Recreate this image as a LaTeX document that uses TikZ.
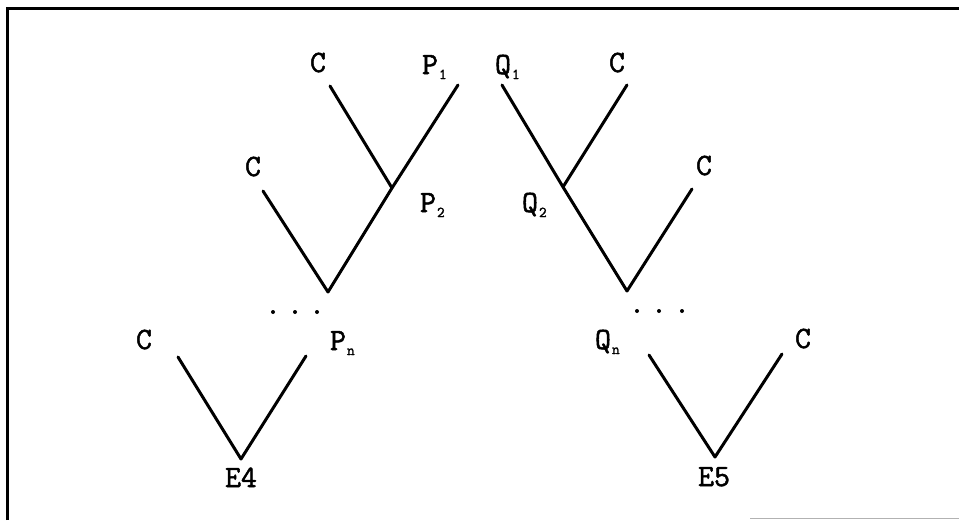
\documentclass[tikz,border=0pt]{standalone}
\usepackage{fontspec}
\newfontfamily\labfont[FakeBold=1.6]{Latin Modern Mono}
\newcommand{\sublab}[2]{#1\rlap{\hspace{1pt}\raisebox{-5pt}{\fontsize{15}{15}\selectfont #2}}}
\begin{document}
\begin{tikzpicture}[x=1pt,y=-1pt,
  lbl/.style={inner sep=0pt,anchor=base,font=\labfont\fontsize{31}{31}\selectfont},
  branch/.style={line width=3pt,line cap=round,line join=round},
  frame/.style={line width=3pt},
  dotm/.style={circle,fill=black,inner sep=0pt,minimum size=4pt}]
\useasboundingbox (0,0) rectangle (959,520);
% frame
\coordinate (fTL) at (7,8);
\coordinate (fTR) at (959,8);
\coordinate (fBL) at (7,520);
\draw[frame] (fBL) -- (fTL) -- (fTR);
\coordinate (gA) at (750,518.5);
\coordinate (gB) at (959,518.5);
\draw[line width=1.5pt,gray!60] (gA) -- (gB);

% ---- left tree ----
\node[lbl] (lC1) at (318,72) {C};
\node[lbl] (lP1) at (430,74) {\sublab{P}{1}};
\node[lbl] (lC2) at (253,176) {C};
\node[lbl] (lP2) at (428,212) {\sublab{P}{2}};
\node[lbl] (lPn) at (338,350) {\sublab{P}{n}};
\node[lbl] (lC3) at (144,349) {C};
\node[lbl] (lE4) at (241,487) {E4};
\coordinate (a1) at (330,86);
\coordinate (a2) at (458,85);
\coordinate (j1) at (392,188);
\coordinate (a3) at (263,191);
\coordinate (v1) at (328,292);
\coordinate (a4) at (178,357);
\coordinate (a5) at (306,356);
\coordinate (v2) at (241,459);
\draw[branch] (a1) -- (j1);
\draw[branch] (a2) -- (j1) -- (v1);
\draw[branch] (a3) -- (v1);
\draw[branch] (a4) -- (v2) -- (a5);
\node[dotm] (d1) at (273,312) {};
\node[dotm] (d2) at (295,312) {};
\node[dotm] (d3) at (317,312) {};

% ---- right tree ----
\node[lbl] (rQ1) at (503,74) {\sublab{Q}{1}};
\node[lbl] (rC1) at (617,72) {C};
\node[lbl] (rC2) at (704,175) {C};
\node[lbl] (rQ2) at (530,212) {\sublab{Q}{2}};
\node[lbl] (rQn) at (603,349) {\sublab{Q}{n}};
\node[lbl] (rC3) at (803,348) {C};
\node[lbl] (rE5) at (714,486) {E5};
\coordinate (b1) at (502,85);
\coordinate (b2) at (627,85);
\coordinate (k1) at (563,187);
\coordinate (b3) at (692,189);
\coordinate (w1) at (627,291);
\coordinate (b4) at (649,355);
\coordinate (b5) at (782,354);
\coordinate (w2) at (715,457);
\draw[branch] (b2) -- (k1);
\draw[branch] (b1) -- (k1) -- (w1);
\draw[branch] (b3) -- (w1);
\draw[branch] (b4) -- (w2) -- (b5);
\node[dotm] (e1) at (637,311) {};
\node[dotm] (e2) at (659,311) {};
\node[dotm] (e3) at (682,311) {};
\end{tikzpicture}
\end{document}
